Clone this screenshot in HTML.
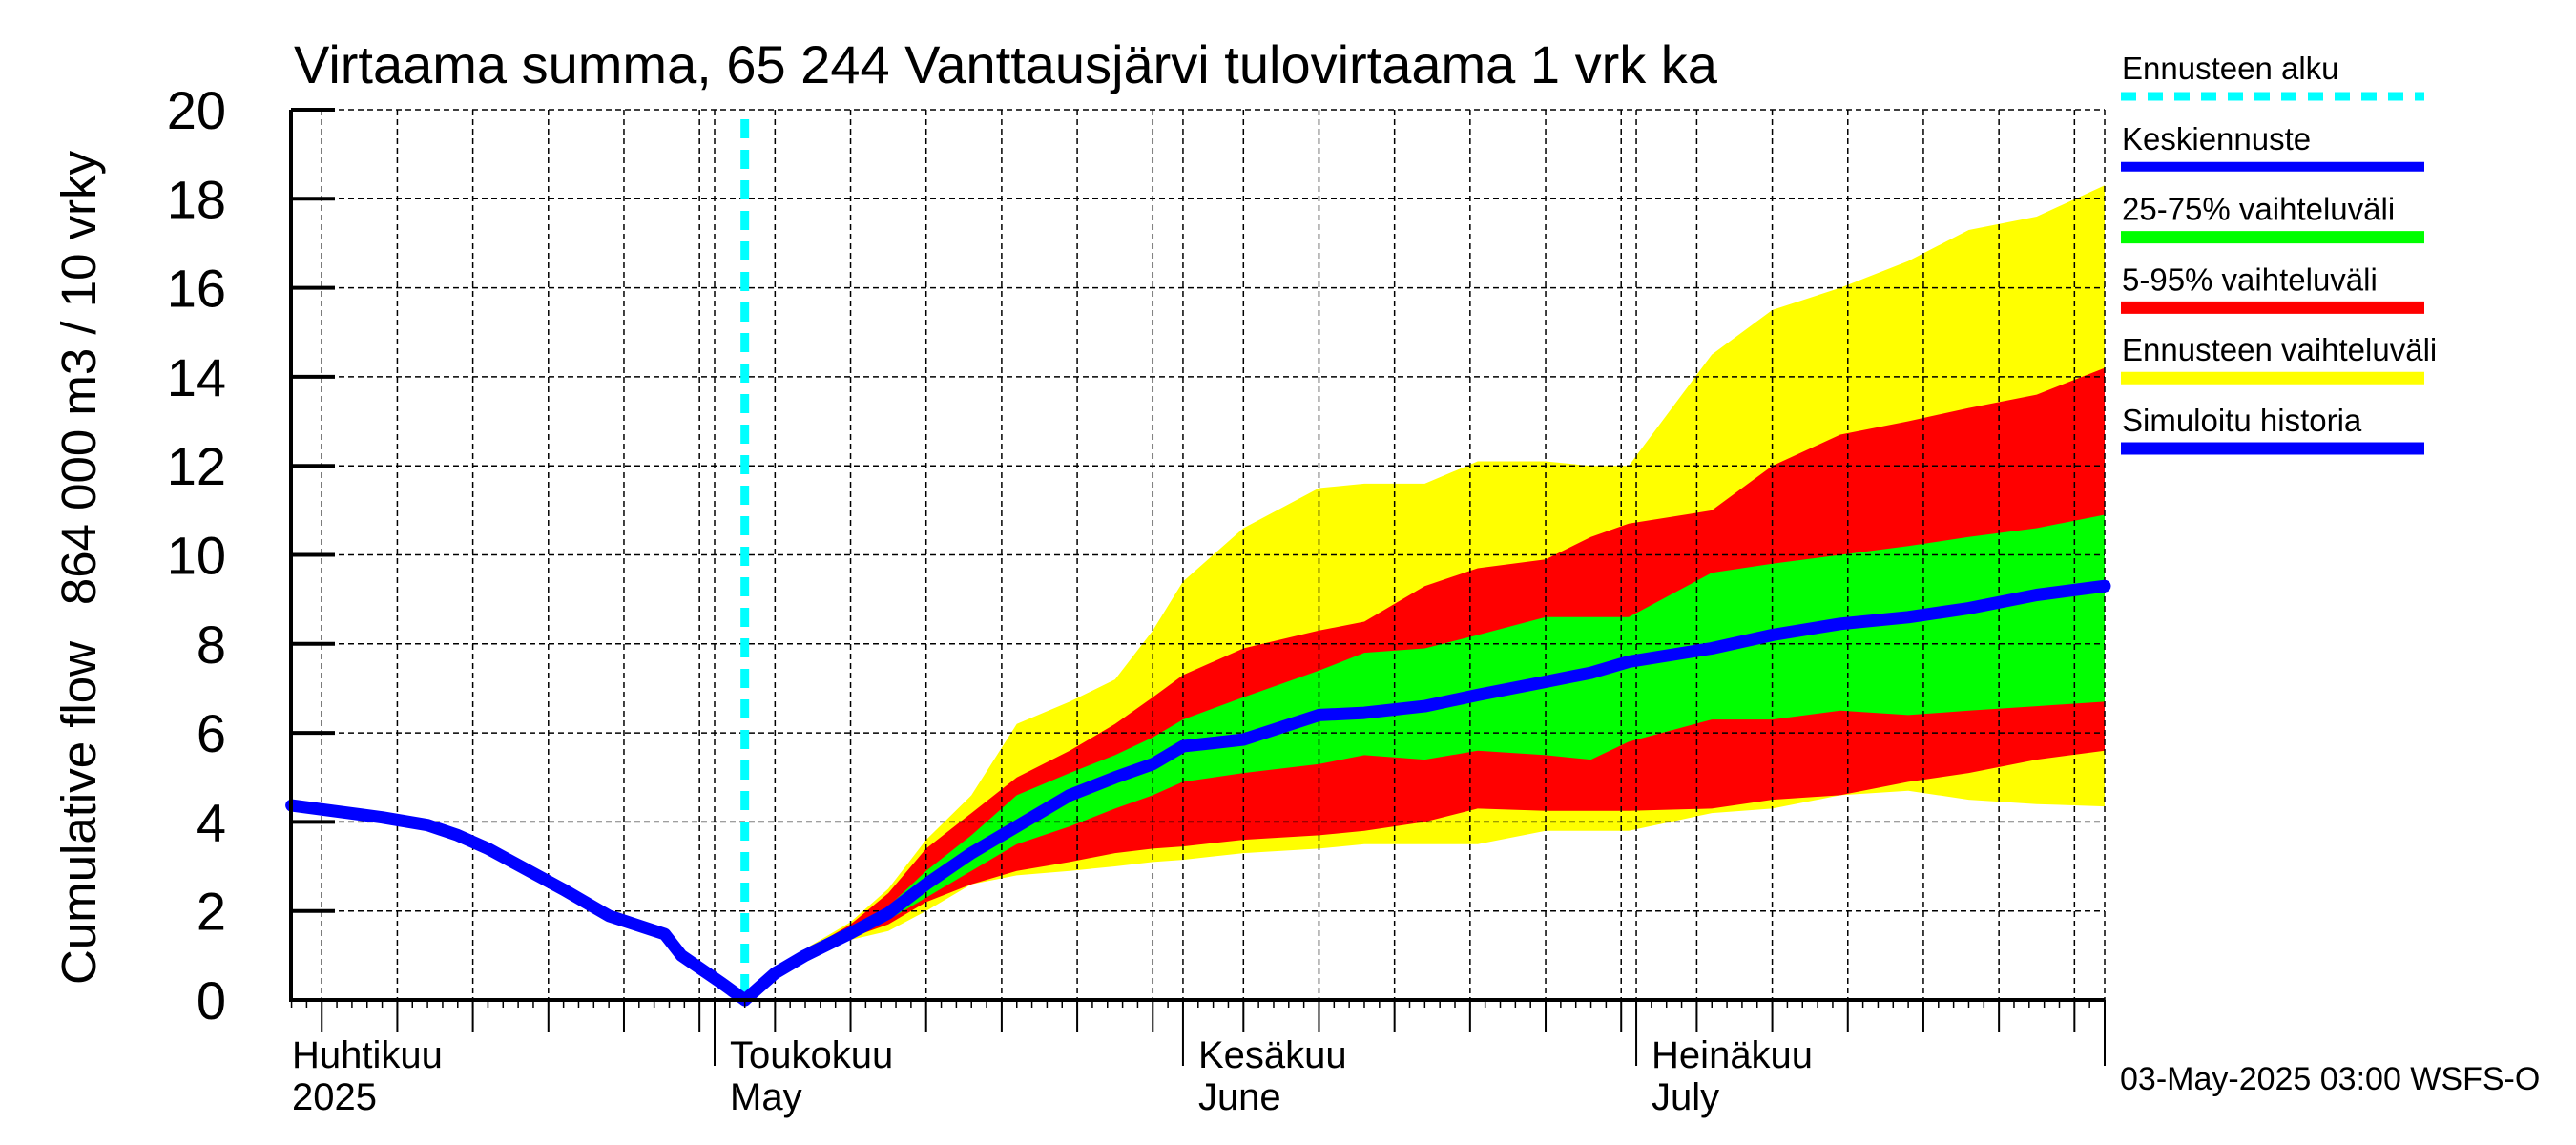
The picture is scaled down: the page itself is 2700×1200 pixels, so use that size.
<!DOCTYPE html>
<html><head><meta charset="utf-8"><style>
html,body{margin:0;padding:0;background:#fff;}
svg{display:block;}
text{font-family:"Liberation Sans",sans-serif;fill:#000;}
.n{font-family:"Liberation Sans Narrow","Liberation Sans",sans-serif;}
</style></head><body>
<svg id="chart" width="2700" height="1200" viewBox="0 0 2700 1200" xmlns="http://www.w3.org/2000/svg">
<text class="n" x="308" y="87" font-size="56">Virtaama summa, 65 244 Vanttausjärvi tulovirtaama 1 vrk ka</text>
<g>
<text transform="translate(100,396) rotate(-90)" text-anchor="middle" font-size="51">864 000 m3 / 10 vrky</text>
<text transform="translate(100,852) rotate(-90)" text-anchor="middle" font-size="51">Cumulative flow</text>
</g>
<g id="bands"></g>
<g id="grid"></g>
<g id="lines"></g>
<g id="axes"></g>
<g id="legend"></g>
<text class="n" x="2222" y="1142" font-size="34">03-May-2025 03:00 WSFS-O</text>
</svg>
<script>
// Chart data (days relative to 1 May 2025)
const histDays = [-28,-22,-19,-17,-15,-10,-7,-3.3,-2.2,0.5,2];
const histVals = [4.37,4.1,3.93,3.7,3.4,2.48,1.89,1.48,1.0,0.37,0];
const fcDays = [2,4,6,9,11.5,14,17,20,23.5,26.5,29,31,35,40,43,47,50.5,55,58,60.5,66,70,74.5,79,83,87.5,92];
const fcMax = [0,0.7,1.15,1.75,2.5,3.6,4.6,6.2,6.7,7.2,8.3,9.4,10.6,11.5,11.6,11.6,12.1,12.1,12.0,12.0,14.5,15.5,16.0,16.6,17.3,17.6,18.3];
const fcP95 = [0,0.68,1.1,1.7,2.4,3.4,4.2,5.0,5.6,6.2,6.8,7.3,7.9,8.3,8.5,9.3,9.7,9.9,10.4,10.7,11.0,12.0,12.7,13.0,13.3,13.6,14.2];
const fcP75 = [0,0.65,1.05,1.6,2.1,2.9,3.7,4.6,5.1,5.5,5.9,6.3,6.8,7.4,7.8,7.9,8.2,8.6,8.6,8.6,9.6,9.8,10.0,10.2,10.4,10.6,10.9];
const fcMed = [0,0.6,1.0,1.5,1.95,2.6,3.3,3.9,4.6,5.0,5.3,5.7,5.85,6.4,6.45,6.6,6.85,7.15,7.35,7.6,7.9,8.2,8.45,8.6,8.8,9.1,9.3];
const fcP25 = [0,0.58,0.97,1.45,1.8,2.3,2.9,3.5,3.9,4.3,4.6,4.9,5.1,5.3,5.5,5.4,5.6,5.5,5.4,5.8,6.3,6.3,6.5,6.4,6.5,6.6,6.7];
const fcP5 = [0,0.55,0.95,1.4,1.7,2.2,2.6,2.9,3.1,3.3,3.4,3.45,3.6,3.7,3.8,4.0,4.3,4.25,4.25,4.25,4.3,4.5,4.6,4.9,5.1,5.4,5.6];
const fcMin = [0,0.5,0.9,1.35,1.55,2.0,2.6,2.8,2.9,3.0,3.1,3.15,3.3,3.4,3.5,3.5,3.5,3.8,3.8,3.8,4.2,4.3,4.6,4.7,4.5,4.4,4.35];
const yTicks = [0,2,4,6,8,10,12,14,16,18,20];
const monthNames = ["Huhtikuu","Toukokuu","Kesäkuu","Heinäkuu"];
const monthSub = ["2025","May","June","July"];
const monthStart = [-30,0,31,61];
const forecastStart = 2;

const NS="http://www.w3.org/2000/svg";
const X0=305,X1=2206,Y0=1048,YT=115,D0=-28,D1=92;
const xs=d=>749+(d)*((X1-749)/D1);
const ys=v=>Y0-v*(Y0-YT)/20;
function mk(tag,attrs,parent){const e=document.createElementNS(NS,tag);for(const k in attrs)e.setAttribute(k,attrs[k]);parent.appendChild(e);return e;}
const bands=document.getElementById('bands'),grid=document.getElementById('grid'),lines=document.getElementById('lines'),axes=document.getElementById('axes'),legend=document.getElementById('legend');

function band(lo,hi,color,name){
  let p="";
  for(let i=0;i<fcDays.length;i++)p+=(i?"L":"M")+xs(fcDays[i]).toFixed(1)+","+ys(hi[i]).toFixed(1);
  for(let i=fcDays.length-1;i>=0;i--)p+="L"+xs(fcDays[i]).toFixed(1)+","+ys(lo[i]).toFixed(1);
  const e=mk('path',{d:p+"Z",fill:color},bands);
  
  
}
band(fcMin,fcMax,'#ffff00','forecast-range-band');
band(fcP5,fcP95,'#ff0000','band-5-95');
band(fcP25,fcP75,'#00ff00','band-25-75');

yTicks.forEach(v=>{
  if(v===0)return;
  const l=mk('line',{x1:X0,x2:X1,y1:ys(v),y2:ys(v),stroke:'#000','stroke-width':1.5,'stroke-dasharray':'6,4'},grid);
  
  
});
const gridDays=[];
for(let m=0;m<4;m++){
  gridDays.push({d:monthStart[m],major:2});
  [5,10,15,20,25,30].forEach(k=>gridDays.push({d:monthStart[m]+k-1,major:1}));
}
gridDays.push({d:92,major:2});
gridDays.forEach(g=>{
  if(g.d<D0||g.d>D1)return;
  const x=xs(g.d);
  const l=mk('line',{x1:x,x2:x,y1:YT,y2:Y0,stroke:'#000','stroke-width':1.5,'stroke-dasharray':'6,4'},grid);
  
  
  const t=mk('line',{x1:x,x2:x,y1:Y0,y2:Y0+(g.major===2?69:34),stroke:'#000','stroke-width':2},axes);
  
  
});
for(let d=D0;d<=D1;d++){
  const t=mk('line',{x1:xs(d),x2:xs(d),y1:Y0,y2:Y0+8,stroke:'#000','stroke-width':1.5},axes);
  
  
}
const cy=mk('line',{x1:xs(forecastStart),x2:xs(forecastStart),y1:125,y2:Y0,stroke:'#00ffff','stroke-width':9,'stroke-dasharray':'20,12'},lines);



function poly(ds,vs,color,w,name){
  const pts=ds.map((d,i)=>xs(d).toFixed(1)+","+ys(vs[i]).toFixed(1)).join(" ");
  const e=mk('polyline',{points:pts,fill:'none',stroke:color,'stroke-width':w,'stroke-linejoin':'round','stroke-linecap':'round'},lines);
  
  
}
poly(histDays,histVals,'#0000ff',13,'simulated-history-line');
poly(fcDays,fcMed,'#0000ff',13,'median-forecast-line');

const ax=mk('path',{d:`M${X0},${YT}V${Y0}H${X1}`,fill:'none',stroke:'#000','stroke-width':4},axes);


yTicks.forEach(v=>{
  const t=mk('line',{x1:X0,x2:X0+46,y1:ys(v),y2:ys(v),stroke:'#000','stroke-width':4},axes);
  
  
  const tx=mk('text',{x:237,y:ys(v)+20,'text-anchor':'end','font-size':56,class:'n'},axes);
  tx.textContent=v;
  
  
});
monthNames.forEach((n,i)=>{
  const x=i===0?306:xs(monthStart[i])+16;
  const a=mk('text',{x:x,y:1119,'font-size':40,class:'n'},axes);
  a.textContent=n;
  
  
  const b=mk('text',{x:x,y:1163,'font-size':40,class:'n'},axes);
  b.textContent=monthSub[i];
  
  
});

const leg=[["Ennusteen alku","#00ffff",9,true],["Keskiennuste","#0000ff",10,false],["25-75% vaihteluväli","#00ff00",13,false],["5-95% vaihteluväli","#ff0000",13,false],["Ennusteen vaihteluväli","#ffff00",13,false],["Simuloitu historia","#0000ff",13,false]];
leg.forEach((e,i)=>{
  const y=101+i*73.8;
  const t=mk('text',{x:2224,y:y-18,'font-size':33},legend);
  t.textContent=e[0];
  
  
  const l=mk('line',{x1:2223,x2:2541,y1:y,y2:y,stroke:e[1],'stroke-width':e[2]},legend);
  if(e[3])l.setAttribute('stroke-dasharray','16,12');
  
  
});
</script>
</body></html>
